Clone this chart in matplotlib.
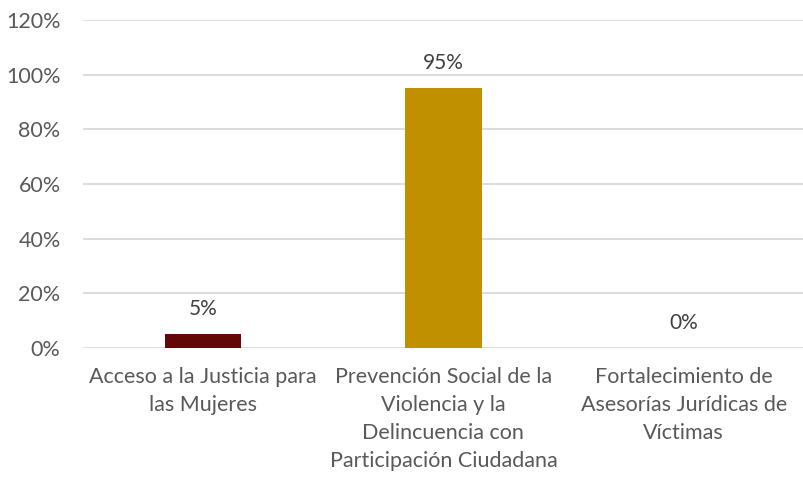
import matplotlib
matplotlib.use("Agg")
import matplotlib.pyplot as plt
from matplotlib.ticker import PercentFormatter

# chart data
categories = [
    "Acceso a la Justicia para\nlas Mujeres",
    "Prevención Social de la\nViolencia y la\nDelincuencia con\nParticipación Ciudadana",
    "Fortalecimiento de\nAsesorías Jurídicas de\nVíctimas",
]
values = [5, 95, 0]
value_labels = ["5%", "95%", "0%"]
bar_colors = ["#630606", "#C09000", "#8C8C8C"]
y_ticks = [0, 20, 40, 60, 80, 100, 120]

text_color = "#595959"
plt.rcParams["font.family"] = ["Lato", "DejaVu Sans"]

fig = plt.figure(figsize=(8.04, 4.78), dpi=100)
ax = fig.add_axes([0.103, 0.272, 0.897, 0.686])

x = range(len(categories))
bars = ax.bar(x, values, width=0.32, color=bar_colors, zorder=2)

for bar, lab in zip(bars, value_labels):
    ax.annotate(lab, (bar.get_x() + bar.get_width() / 2, bar.get_height()),
                xytext=(0, 18), textcoords="offset points",
                ha="center", va="center", fontsize=15, color="#404040")

ax.set_xlim(-0.5, len(categories) - 0.5)
ax.set_ylim(0, 120)
ax.set_yticks(y_ticks)
ax.yaxis.set_major_formatter(PercentFormatter(decimals=0))
ax.set_xticks(list(x))
ax.set_xticklabels(categories, linespacing=1.5)

ax.grid(axis="y", color="#D9D9D9", linewidth=1.3, zorder=0)
for s in ax.spines.values():
    s.set_visible(False)
ax.tick_params(axis="both", length=0, labelsize=15.5, labelcolor=text_color)
ax.tick_params(axis="y", pad=16)
ax.tick_params(axis="x", pad=14)

fig.savefig("out.png", dpi=100)
